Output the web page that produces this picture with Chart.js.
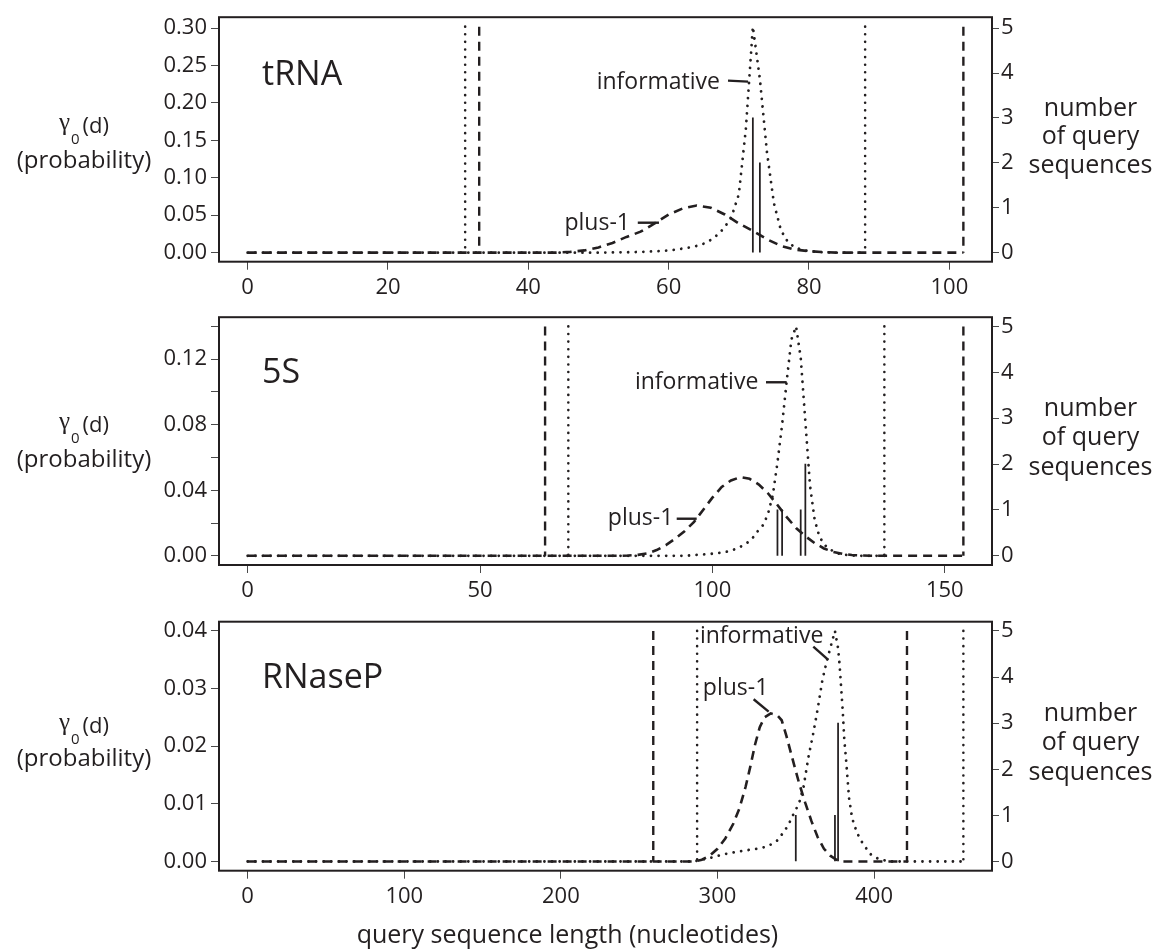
<!DOCTYPE html>
<html>
<head>
<meta charset="utf-8">
<script src="https://cdn.jsdelivr.net/npm/chart.js@4.4.0/dist/chart.umd.min.js"></script>
<style>
  html, body { margin: 0; padding: 0; background: #ffffff; }
  #wrap { position: relative; width: 1159px; height: 951px; overflow: hidden; background: #ffffff; }
  #wrap canvas { position: absolute; left: 0; }
</style>
</head>
<body>
<div id="wrap">
  <canvas id="panelTrna" width="1159" height="300" style="top:0px"></canvas>
  <canvas id="panel5S" width="1159" height="300" style="top:300px"></canvas>
  <canvas id="panelRnaseP" width="1159" height="351" style="top:600px"></canvas>
</div>
<script>
// ---------- tRNA ----------
const trnaLengthTicks = [0, 20, 40, 60, 80, 100];
const trnaProbTicks = [0, 0.05, 0.10, 0.15, 0.20, 0.25, 0.30];
const trnaProbLabels = ['0.00', '0.05', '0.10', '0.15', '0.20', '0.25', '0.30'];
const trnaInfoLen = [0, 50, 54, 56, 58, 60, 61, 62, 63, 64, 65, 66, 67, 68, 69, 70, 71, 72, 73, 74, 75, 76, 77, 78, 79, 80, 81, 82, 84, 88];
const trnaInfoProb = [0, 0, 0.0005, 0.001, 0.0018, 0.003, 0.004, 0.0055, 0.007, 0.009, 0.012, 0.017, 0.024, 0.034, 0.049, 0.078, 0.165, 0.302, 0.232, 0.135, 0.066, 0.030, 0.014, 0.007, 0.004, 0.002, 0.001, 0.0005, 0, 0];
const trnaPlusLen = [0, 44, 46, 48, 50, 52, 54, 56, 58, 60, 62, 64, 66, 68, 70, 72, 74, 76, 78, 80, 82, 84, 102];
const trnaPlusProb = [0, 0, 0.001, 0.003, 0.007, 0.013, 0.021, 0.028, 0.039, 0.051, 0.059, 0.063, 0.060, 0.051, 0.039, 0.029, 0.018, 0.009, 0.004, 0.002, 0.0008, 0, 0];
const trnaQueryLen = [72, 73];
const trnaQueryCount = [3, 2];
const trnaInfoBounds = [31, 88];
const trnaPlusBounds = [33, 102];

// ---------- 5S ----------
const fiveSLengthTicks = [0, 50, 100, 150];
const fiveSProbTicks = [0, 0.02, 0.04, 0.06, 0.08, 0.10, 0.12, 0.14];
const fiveSProbLabels = ['0.00', '', '0.04', '', '0.08', '', '0.12', ''];
const fiveSInfoLen = [0, 94, 96, 98, 100, 102, 104, 106, 107, 108, 109, 110, 111, 112, 113, 114, 115, 116, 117, 118, 119, 120, 121, 122, 123, 124, 125, 126, 127, 128, 130, 132, 137];
const fiveSInfoProb = [0, 0, 0.0004, 0.0008, 0.0013, 0.002, 0.003, 0.0055, 0.007, 0.009, 0.012, 0.016, 0.019, 0.026, 0.037, 0.057, 0.080, 0.107, 0.132, 0.140, 0.121, 0.082, 0.043, 0.022, 0.012, 0.007, 0.0045, 0.0028, 0.0015, 0.0008, 0.0002, 0, 0];
const fiveSPlusLen = [0, 80, 82, 84, 86, 88, 90, 92, 94, 96, 98, 100, 102, 104, 106, 108, 110, 112, 114, 116, 118, 120, 122, 124, 126, 128, 130, 132, 134, 154];
const fiveSPlusProb = [0, 0, 0.0002, 0.0006, 0.0015, 0.0035, 0.0065, 0.0105, 0.015, 0.0205, 0.028, 0.0355, 0.042, 0.046, 0.048, 0.047, 0.0435, 0.038, 0.031, 0.0236, 0.017, 0.012, 0.0078, 0.0045, 0.0024, 0.0012, 0.0005, 0.0002, 0, 0];
const fiveSQueryLen = [114, 115, 119, 120];
const fiveSQueryCount = [1, 1, 1, 2];
const fiveSInfoBounds = [69, 137];
const fiveSPlusBounds = [64, 154];

// ---------- RNaseP ----------
const rnpLengthTicks = [0, 100, 200, 300, 400];
const rnpProbTicks = [0, 0.01, 0.02, 0.03, 0.04];
const rnpProbLabels = ['0.00', '0.01', '0.02', '0.03', '0.04'];
const rnpInfoLen = [0, 285, 295, 305, 315, 325, 332, 338, 342, 345, 349, 352, 355, 358, 361, 364, 367, 370, 373, 375, 377, 378, 379, 380, 381, 382, 383, 384, 386, 389, 393, 398, 403, 410, 457];
const rnpInfoProb = [0, 0, 0.0006, 0.0013, 0.0018, 0.0022, 0.0026, 0.0036, 0.005, 0.0062, 0.0085, 0.010, 0.013, 0.018, 0.022, 0.0265, 0.0315, 0.035, 0.038, 0.040, 0.037, 0.034, 0.030, 0.026, 0.021, 0.018, 0.0145, 0.011, 0.0075, 0.005, 0.003, 0.0012, 0.0004, 0, 0];
const rnpPlusLen = [0, 285, 290, 295, 300, 305, 310, 314, 318, 321, 324, 327, 330, 334, 338, 341, 344, 348, 352, 356, 360, 364, 368, 372, 376, 380, 421];
const rnpPlusProb = [0, 0, 0.0003, 0.001, 0.0022, 0.004, 0.0065, 0.0092, 0.013, 0.0165, 0.0203, 0.0233, 0.025, 0.0257, 0.0254, 0.0245, 0.0218, 0.0177, 0.0137, 0.0102, 0.007, 0.0042, 0.0022, 0.001, 0.0003, 0, 0];
const rnpQueryLen = [350, 375, 377];
const rnpQueryCount = [1, 1, 3];
const rnpInfoBounds = [287, 457];
const rnpPlusBounds = [259, 421];

// right-hand axis: number of query sequences
const countTicks = [0, 1, 2, 3, 4, 5];

const INK = '#231f20';
const TICK_INK = '#4a4a4a';
const FONT = "'Open Sans', 'Noto Sans', sans-serif";
const GREEK_FONT = "'Liberation Serif', 'DejaVu Serif', serif";
const DOTTED = [0.01, 7.6];
const DASHED = [9, 6];

Chart.defaults.font.family = FONT;
Chart.defaults.color = INK;

function pairs(xs, ys) { return xs.map((x, i) => ({ x: x, y: ys[i] })); }

// frame, panel name, curve labels with leader lines, and the axis titles
const panelDecor = {
  id: 'panelDecor',
  afterDraw(chart, args, o) {
    const { ctx, chartArea: a, scales } = chart;
    const sx = scales.x, sy = scales.y, sy2 = scales.y2;
    ctx.save();
    ctx.strokeStyle = INK;
    ctx.lineWidth = 2;
    ctx.strokeRect(a.left, a.top, a.right - a.left, a.bottom - a.top);

    ctx.fillStyle = INK;
    ctx.textBaseline = 'alphabetic';

    // panel name
    ctx.font = '34px ' + FONT;
    ctx.textAlign = 'left';
    ctx.fillText(o.name, sx.getPixelForValue(o.nameAt[0]), sy.getPixelForValue(o.nameAt[1]));

    // curve labels
    ctx.font = '23px ' + FONT;
    ctx.textAlign = 'right';
    ctx.lineWidth = 2.4;
    o.notes.forEach(n => {
      ctx.fillText(n.text, sx.getPixelForValue(n.at[0]), sy.getPixelForValue(n.at[1]));
      ctx.beginPath();
      ctx.moveTo(sx.getPixelForValue(n.lead[0][0]), sy.getPixelForValue(n.lead[0][1]));
      ctx.lineTo(sx.getPixelForValue(n.lead[1][0]), sy.getPixelForValue(n.lead[1][1]));
      ctx.stroke();
    });

    // left title: gamma_0(d) over (probability)
    const cx = 84;
    const b1 = sy.getPixelForValue(o.leftTitleAt[0]);
    const b2 = sy.getPixelForValue(o.leftTitleAt[1]);
    ctx.font = '25px ' + GREEK_FONT; const wg = ctx.measureText('\u03b3').width;
    ctx.font = '15px ' + FONT; const ws = ctx.measureText('0').width;
    ctx.font = '22px ' + FONT; const wd = ctx.measureText('(d)').width;
    let px = cx - (wg + 1 + ws + 3 + wd) / 2;
    ctx.textAlign = 'left';
    ctx.font = '25px ' + GREEK_FONT; ctx.fillText('\u03b3', px, b1 - 3); px += wg + 1;
    ctx.font = '15px ' + FONT; ctx.fillText('0', px, b1 + 11); px += ws + 3;
    ctx.font = '22px ' + FONT; ctx.fillText('(d)', px, b1);
    ctx.textAlign = 'center';
    ctx.font = '24px ' + FONT;
    ctx.fillText('(probability)', cx, b2);

    // right title
    ctx.font = '25px ' + FONT;
    const rx = a.right + 98.5;
    ['number', 'of query', 'sequences'].forEach((t, i) => {
      ctx.fillText(t, rx, sy2.getPixelForValue(o.rightTitleAt[i]));
    });

    // horizontal axis title (bottom panel only)
    if (o.xTitle) {
      ctx.font = '25px ' + FONT;
      ctx.fillText(o.xTitle, sx.getPixelForValue(o.xTitleAt), a.bottom + 72.6);
    }
    ctx.restore();
  }
};

function buildPanel(canvasId, p) {
  const peak = Math.max.apply(null, p.infoProb);
  const datasets = [
    { type: 'line', data: pairs(p.infoLen, p.infoProb), borderColor: INK, borderWidth: 2.8,
      borderDash: DOTTED, borderCapStyle: 'round', pointRadius: 0, tension: 0, fill: false, yAxisID: 'y', order: 3 },
    { type: 'line', data: pairs(p.plusLen, p.plusProb), borderColor: INK, borderWidth: 2.6,
      borderDash: DASHED, borderCapStyle: 'butt', pointRadius: 0, tension: 0, fill: false, yAxisID: 'y', order: 2 }
  ];
  p.infoBounds.forEach(b => datasets.push({
    type: 'line', data: [{ x: b, y: peak }, { x: b, y: 0 }], borderColor: INK, borderWidth: 2.6,
    borderDash: DOTTED, borderCapStyle: 'round', pointRadius: 0, fill: false, yAxisID: 'y', order: 4
  }));
  p.plusBounds.forEach(b => datasets.push({
    type: 'line', data: [{ x: b, y: peak }, { x: b, y: 0 }], borderColor: INK, borderWidth: 2.4,
    borderDash: DASHED, borderCapStyle: 'butt', pointRadius: 0, fill: false, yAxisID: 'y', order: 4
  }));
  datasets.push({
    type: 'bar', data: pairs(p.queryLen, p.queryCount), backgroundColor: INK, borderWidth: 0,
    barThickness: 1.1, yAxisID: 'y2', order: 1
  });

  const tickGrid = len => ({ display: true, drawOnChartArea: false, drawTicks: true, tickLength: len,
                             tickColor: TICK_INK, tickWidth: 1, offset: false });
  const tickFont = { size: 22, family: FONT };

  return new Chart(document.getElementById(canvasId), {
    data: { datasets: datasets },
    options: {
      responsive: false,
      animation: false,
      events: [],
      layout: { padding: { top: p.padTop, left: 0, right: 0, bottom: 0 } },
      plugins: { legend: { display: false }, tooltip: { enabled: false }, panelDecor: p.decor },
      scales: {
        x: {
          type: 'linear', position: 'bottom', offset: false,
          min: -0.04 * p.lengthMax, max: 1.04 * p.lengthMax,
          grid: tickGrid(8), border: { display: false },
          ticks: { autoSkip: false, maxRotation: 0, padding: 5, color: INK, font: tickFont,
                   callback: v => String(v) },
          afterBuildTicks: s => { s.ticks = p.lengthTicks.map(v => ({ value: v })); },
          afterFit: s => { s.height = p.xAxisHeight; }
        },
        y: {
          type: 'linear', position: 'left', min: p.probMin, max: p.probMax,
          grid: tickGrid(8), border: { display: false },
          ticks: { autoSkip: false, padding: 4, color: INK, font: tickFont,
                   callback: (v, i) => p.probLabels[i] },
          afterBuildTicks: s => { s.ticks = p.probTicks.map(v => ({ value: v })); },
          afterFit: s => { s.width = 219; }
        },
        y2: {
          type: 'linear', position: 'right',
          min: p.probMin / p.countScale, max: p.probMax / p.countScale,
          grid: tickGrid(7), border: { display: false },
          ticks: { autoSkip: false, padding: 2, color: INK, font: tickFont,
                   callback: (v, i) => String(countTicks[i]) },
          afterBuildTicks: s => { s.ticks = countTicks.map(v => ({ value: v })); },
          afterFit: s => { s.width = 167; }
        }
      }
    },
    plugins: [panelDecor]
  });
}

const rightTitleAt = [3.044, 2.423, 1.767];

buildPanel('panelTrna', {
  lengthMax: 102, lengthTicks: trnaLengthTicks,
  probMin: -0.0121, probMax: 0.3146, probTicks: trnaProbTicks, probLabels: trnaProbLabels,
  countScale: 0.06,
  infoLen: trnaInfoLen, infoProb: trnaInfoProb, plusLen: trnaPlusLen, plusProb: trnaPlusProb,
  queryLen: trnaQueryLen, queryCount: trnaQueryCount,
  infoBounds: trnaInfoBounds, plusBounds: trnaPlusBounds,
  padTop: 12.7, xAxisHeight: 38.3,
  decor: {
    name: 'tRNA', nameAt: [2.05, 0.2241],
    notes: [
      { text: 'informative', at: [67.32, 0.2184], lead: [[68.46, 0.2299], [71.31, 0.2285]] },
      { text: 'plus-1', at: [54.49, 0.0304], lead: [[55.6, 0.040], [58.62, 0.040]] }
    ],
    leftTitleAt: [0.1594, 0.1135], rightTitleAt: rightTitleAt
  }
});

buildPanel('panel5S', {
  lengthMax: 154, lengthTicks: fiveSLengthTicks,
  probMin: -0.0056, probMax: 0.1456, probTicks: fiveSProbTicks, probLabels: fiveSProbLabels,
  countScale: 0.028,
  infoLen: fiveSInfoLen, infoProb: fiveSInfoProb, plusLen: fiveSPlusLen, plusProb: fiveSPlusProb,
  queryLen: fiveSQueryLen, queryCount: fiveSQueryCount,
  infoBounds: fiveSInfoBounds, plusBounds: fiveSPlusBounds,
  padTop: 15, xAxisHeight: 35,
  decor: {
    name: '5S', nameAt: [3.09, 0.1057],
    notes: [
      { text: 'informative', at: [109.88, 0.1016], lead: [[111.53, 0.1059], [115.98, 0.1059]] },
      { text: 'plus-1', at: [91.59, 0.019], lead: [[92.32, 0.02264], [96.62, 0.02264]] }
    ],
    leftTitleAt: [0.0754, 0.0543], rightTitleAt: rightTitleAt
  }
});

buildPanel('panelRnaseP', {
  lengthMax: 457, lengthTicks: rnpLengthTicks,
  probMin: -0.0016, probMax: 0.0416, probTicks: rnpProbTicks, probLabels: rnpProbLabels,
  countScale: 0.008,
  infoLen: rnpInfoLen, infoProb: rnpInfoProb, plusLen: rnpPlusLen, plusProb: rnpPlusProb,
  queryLen: rnpQueryLen, queryCount: rnpQueryCount,
  infoBounds: rnpInfoBounds, plusBounds: rnpPlusBounds,
  padTop: 21.7, xAxisHeight: 80.3,
  decor: {
    name: 'RNaseP', nameAt: [9.18, 0.03005],
    notes: [
      { text: 'informative', at: [367.57, 0.03785], lead: [[361.18, 0.03726], [370.76, 0.03496]] },
      { text: 'plus-1', at: [332.45, 0.02888], lead: [[323.08, 0.02814], [332.66, 0.02599]] }
    ],
    leftTitleAt: [0.02234, 0.01657], rightTitleAt: rightTitleAt,
    xTitle: 'query sequence length (nucleotides)', xTitleAt: 204.2
  }
});
</script>
</body>
</html>
